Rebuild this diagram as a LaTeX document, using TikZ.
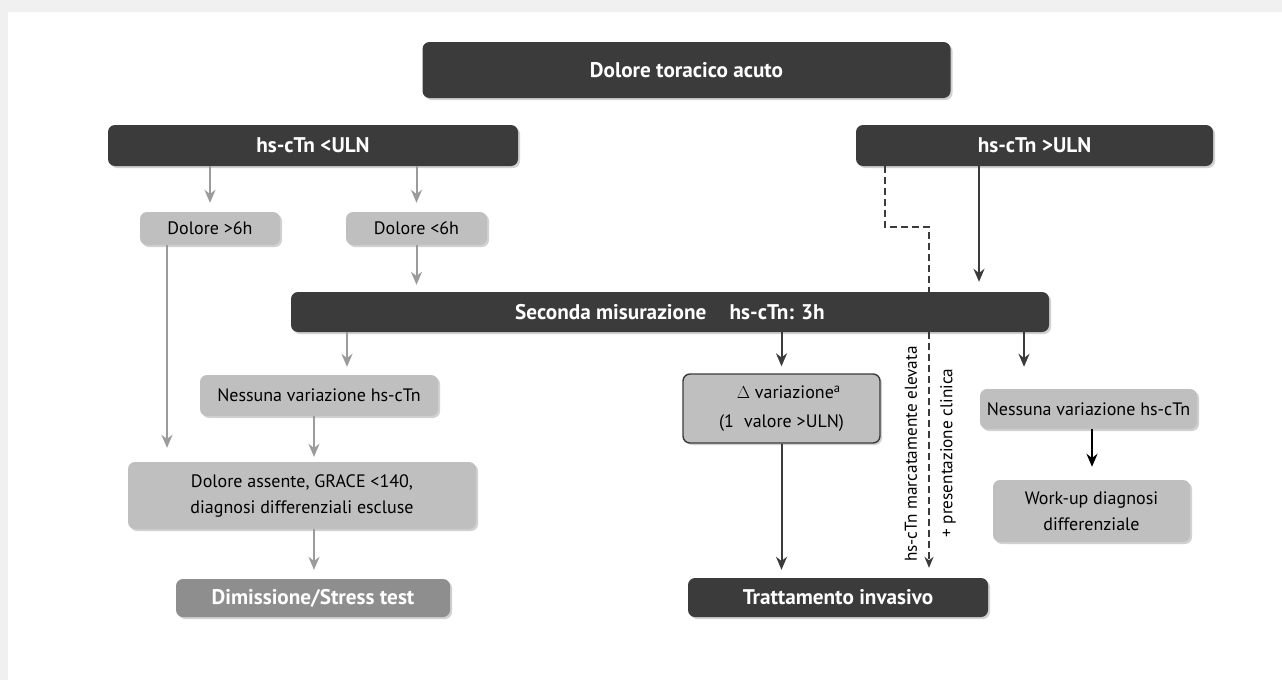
\documentclass[tikz,border=0pt]{standalone}
\usepackage{fontspec}
\setmainfont{PT Sans}
\usetikzlibrary{arrows.meta,shadows}
\definecolor{darkbox}{HTML}{3B3B3B}
\definecolor{lightbox}{HTML}{BFBFBF}
\definecolor{midbox}{HTML}{8E8E8E}
\definecolor{garrow}{HTML}{9B9B9B}
\definecolor{framegray}{HTML}{F0F0F0}
\tikzset{
  box/.style={rounded corners=7pt, inner sep=2pt, align=center,
    drop shadow={shadow xshift=2pt, shadow yshift=-2pt, opacity=0.18, fill=black}},
  darkb/.style={box, fill=darkbox, text=white, font=\fontsize{21.2}{24}\selectfont\bfseries},
  lightb/.style={box, fill=lightbox, text=black, font=\fontsize{18}{26}\selectfont},
  midb/.style={box, fill=midbox, text=white, font=\fontsize{21.2}{24}\selectfont\bfseries},
  tip/.style={-{Stealth[length=13pt,width=11pt]}},
  garr/.style={draw=garrow, line width=2pt, tip},
  darr/.style={draw=darkbox, line width=2pt, tip},
  barr/.style={draw=black, line width=2pt, tip},
  dashline/.style={draw=darkbox, line width=1.8pt, dash pattern=on 7pt off 4pt},
  rotlab/.style={rotate=90, font=\fontsize{17.2}{20}\selectfont, inner sep=0pt}
}
\begin{document}
\begin{tikzpicture}[x=1pt,y=-1pt]
\useasboundingbox (0,0) rectangle (1282,680);
\fill[framegray] (0,0) rectangle (1282,680);
\fill[white] (8,12) rectangle (1282,680);

% nodes
\node[darkb, minimum width=528pt, minimum height=56pt] (top) at (686.5,70) {Dolore toracico acuto};
\node[darkb, minimum width=410pt, minimum height=41pt] (uln) at (313,145.5) {hs-cTn <ULN};
\node[darkb, minimum width=357pt, minimum height=41pt] (ugt) at (1034.5,145.5) {hs-cTn >ULN};
\node[lightb, minimum width=140pt, minimum height=33pt] (dolgt) at (210,228.5) {Dolore >6h};
\node[lightb, minimum width=141pt, minimum height=33pt] (dollt) at (416.5,228.5) {Dolore <6h};
\node[darkb, minimum width=758pt, minimum height=40pt] (sec) at (670,312) {Seconda misurazione\hspace{1.1em}hs-cTn: 3h};
\node[lightb, minimum width=238pt, minimum height=41pt] (ness1) at (319,395.5) {Nessuna variazione hs-cTn};
\node[lightb, minimum width=348pt, minimum height=67pt] (assente) at (302,495.5) {Dolore assente, GRACE <140,\\diagnosi differenziali escluse};
\node[midb, minimum width=274pt, minimum height=38pt] (dim) at (313,598) {Dimissione/Stress test};
\node[lightb, draw=darkbox, line width=1.4pt, minimum width=197pt, minimum height=69pt,
      font=\fontsize{18}{29}\selectfont] (delta) at (781.5,408.5) {\hspace{0.8em}$\Delta$ variazione\textsuperscript{a}\\(1\hspace{0.3em} valore >ULN)};
\node[darkb, minimum width=300pt, minimum height=39pt] (tratt) at (838,597.5) {Trattamento invasivo};
\node[lightb, minimum width=217pt, minimum height=40pt] (ness2) at (1088.5,409) {Nessuna variazione hs-cTn};
\node[lightb, minimum width=197pt, minimum height=62pt] (work) at (1091.5,511) {Work-up diagnosi\\differenziale};

\node[rotlab] (lab1) at (911,454) {hs-cTn marcatamente elevata};
\node[rotlab] (lab2) at (948,453) {+ presentazione clinica};

% helper coordinates
\coordinate (cgt) at ([xshift=-43pt]dolgt.south);
\coordinate (cs1) at ([xshift=28pt]ness1.north);
\coordinate (cn1) at ([xshift=-5pt]ness1.south);
\coordinate (cd1) at ([xshift=-149.5pt]ugt.south);
\coordinate (cd2) at ([xshift=-105.5pt]ugt.south);
\coordinate (cd3) at ([xshift=-55.5pt]ugt.south);
\coordinate (cdt) at ([xshift=91pt]tratt.north);
\coordinate (cn2) at ([xshift=-64.5pt]ness2.north);
\coordinate (cw) at ([xshift=3.5pt]ness2.south);

% left (grey) connectors
\draw[garr, shorten >=9pt] (uln.south -| dolgt.north) -- (dolgt.north);
\draw[garr, shorten >=9pt] (uln.south -| dollt.north) -- (dollt.north);
\draw[garr, shorten >=7pt] (dollt.south) -- (dollt.south |- sec.north);
\draw[garr, shorten >=14pt] (cgt) -- (cgt |- assente.north);
\draw[garr, shorten >=8pt] (cs1 |- sec.south) -- (cs1);
\draw[garr, shorten >=5pt] (cn1) -- (cn1 |- assente.north);
\draw[garr, shorten >=9pt] (cn1 |- assente.south) -- (cn1 |- dim.north);

% right (dark) connectors
\draw[darr, shorten >=10pt] (cd3) -- (cd3 |- sec.north);
\draw[dashline] (cd1) -- ([yshift=-61pt]cd1) -| (cd2 |- sec.north);
\draw[dashline, -{Stealth[length=11pt,width=9pt]}, shorten >=10pt] (cdt |- sec.south) -- (cdt);
\draw[darr, shorten >=7pt] (delta.north |- sec.south) -- (delta.north);
\draw[darr, shorten >=8pt] (delta.south) -- (delta.south |- tratt.north);
\draw[darr, shorten >=22pt] (cn2 |- sec.south) -- (cn2);
\draw[barr, shorten >=13pt] (cw) -- (cw |- work.north);
\end{tikzpicture}
\end{document}
